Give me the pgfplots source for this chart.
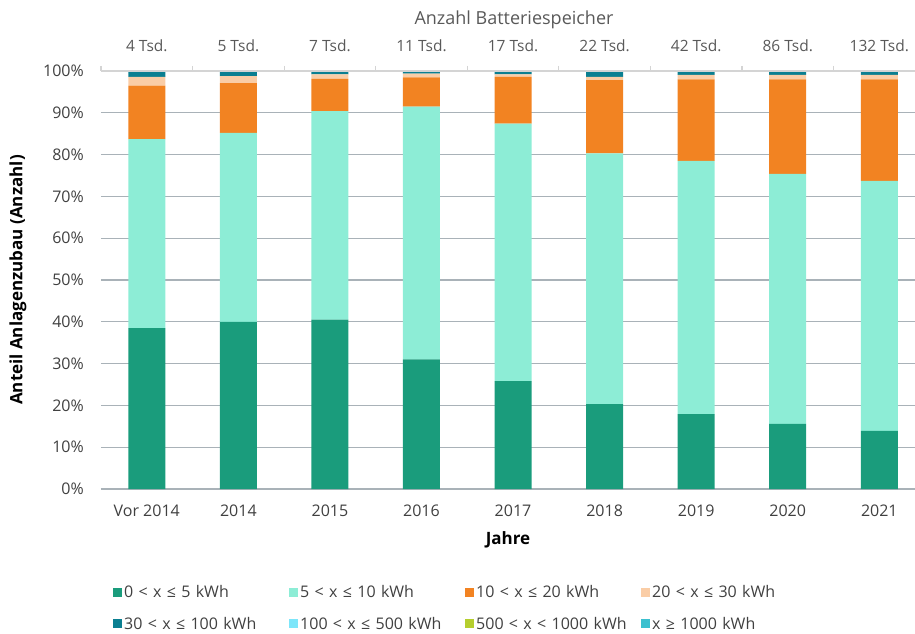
\documentclass[border=0pt]{standalone}
\usepackage{pgfplots}
\pgfplotsset{compat=1.18}
\usepackage{pgfplotstable}
\usepackage{fontspec}
\setmainfont{Open Sans}
\definecolor{cA}{HTML}{1A9C7C}
\definecolor{cB}{HTML}{8DEDD6}
\definecolor{cC}{HTML}{F28322}
\definecolor{cD}{HTML}{FACDA6}
\definecolor{cE}{HTML}{0B7F91}
\definecolor{cF}{HTML}{7DE6FA}
\definecolor{cG}{HTML}{B5CE2E}
\definecolor{cH}{HTML}{3CC0CF}
\definecolor{gridc}{HTML}{A9B2B8}
\definecolor{topc}{HTML}{D4D4D4}
\definecolor{labc}{HTML}{404040}
\definecolor{topl}{HTML}{595959}
\begin{document}
\begin{tikzpicture}
\pgfplotstableread{
x g m o p t c y q
0 38.5 45.2 12.8 2.1 1.4 0 0 0
1 40.0 45.2 11.9 1.7 1.2 0 0 0
2 40.5 49.9 7.7 1.1 0.8 0 0 0
3 31.0 60.5 7.0 0.9 0.6 0 0 0
4 25.8 61.6 11.2 0.6 0.8 0 0 0
5 20.3 60.0 17.5 0.8 1.4 0 0 0
6 17.9 60.6 19.5 1.1 0.9 0 0 0
7 15.6 59.8 22.6 1.1 0.9 0 0 0
8 13.9 59.8 24.3 1.1 0.9 0 0 0
}\data
\begin{axis}[name=ax, at={(0,0)}, anchor=south west,
  scale only axis, width=814pt, height=418pt,
  ybar stacked, bar width=37pt,
  xmin=-0.5, xmax=8.39, ymin=0, ymax=100,
  xtick={0,...,8},
  xticklabels={Vor 2014,2014,2015,2016,2017,2018,2019,2020,2021},
  ytick={0,10,...,100},
  yticklabel={\pgfmathprintnumber{\tick}\%},
  /pgf/number format/assume math mode=true,
  axis x line*=bottom, axis y line*=left,
  y axis line style={draw=none},
  x axis line style={draw=gridc, line width=1.2pt, -},
  major tick length=0pt,
  ymajorgrids, grid style={gridc, line width=1.2pt},
  tick label style={font=\fontsize{16}{19}\selectfont, text=labc},
  xticklabel style={anchor=center, yshift=-22pt},
  yticklabel style={anchor=east, inner sep=0pt, xshift=-17pt},
  xlabel={Jahre},
  xlabel style={at={(axis description cs:0.5,0)}, anchor=center, yshift=-51pt, font=\bfseries\fontsize{17}{20}\selectfont},
  ylabel={Anteil Anlagenzubau (Anzahl)},
  ylabel style={at={(axis description cs:-0.102,0.5)}, anchor=center, font=\bfseries\fontsize{17}{20}\selectfont},
  legend columns=4, legend cell align=left,
  legend image code/.code={\fill[#1] (0pt,-4.5pt) rectangle (9pt,4.5pt);},
  legend style={at={(axis description cs:0,0)}, anchor=north west, xshift=9pt, yshift=-92pt,
    draw=none, fill=none, font=\fontsize{16}{19}\selectfont, text=labc, row sep=14pt,
    /tikz/every even column/.append style={text width=163pt}},
]
\addplot[fill=cA, draw=none] table[x=x, y=g] {\data};
\addplot[fill=cB, draw=none] table[x=x, y=m] {\data};
\addplot[fill=cC, draw=none] table[x=x, y=o] {\data};
\addplot[fill=cD, draw=none] table[x=x, y=p] {\data};
\addplot[fill=cE, draw=none] table[x=x, y=t] {\data};
\addplot[fill=cF, draw=none] table[x=x, y=c] {\data};
\addplot[fill=cG, draw=none] table[x=x, y=y] {\data};
\addplot[fill=cH, draw=none] table[x=x, y=q] {\data};
\legend{0 < x ≤ 5 kWh, 5 < x ≤ 10 kWh, 10 < x ≤ 20 kWh, 20 < x ≤ 30 kWh,
  30 < x ≤ 100 kWh, 100 < x ≤ 500 kWh, 500 < x < 1000 kWh, x ≥ 1000 kWh}
\end{axis}
\begin{axis}[at={(ax.south west)}, anchor=south west,
  scale only axis, width=814pt, height=418pt,
  xmin=-0.5, xmax=8.39, ymin=0, ymax=100,
  axis x line*=top, axis y line=none,
  x axis line style={draw=topc, line width=1.2pt, -},
  xtick={0,...,8},
  xticklabels={4 Tsd.,5 Tsd.,7 Tsd.,11 Tsd.,17 Tsd.,22 Tsd.,42 Tsd.,86 Tsd.,132 Tsd.},
  minor xtick={-0.5,0.5,...,7.5},
  major tick length=0pt, minor tick length=5pt, tick align=outside,
  minor tick style={draw=topc, line width=1.2pt},
  tick label style={font=\fontsize{15.5}{19}\selectfont, text=topl},
  xticklabel style={anchor=center, yshift=25pt},
  xlabel={Anzahl Batteriespeicher},
  xlabel style={at={(axis description cs:0.5,1)}, anchor=center, yshift=51pt, xshift=6pt, font=\fontsize{18}{21}\selectfont, text=topl},
]
\end{axis}
\pgfresetboundingbox
\path[use as bounding box] ([xshift=-101pt, yshift=-145pt]ax.south west) rectangle ([yshift=71pt]ax.north east);
\end{tikzpicture}
\end{document}
